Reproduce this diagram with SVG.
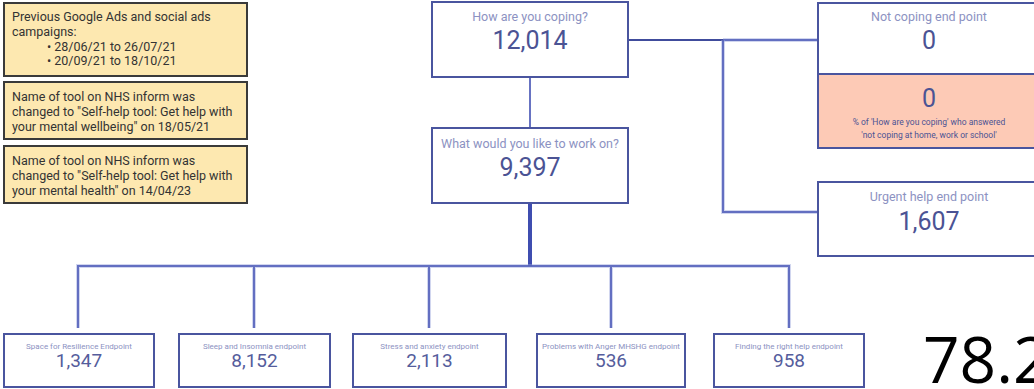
<svg xmlns="http://www.w3.org/2000/svg" width="1034" height="389" viewBox="0 0 1034 389">
  <style>
    .note rect { fill: #fde8b0; stroke: #3a3a3a; stroke-width: 2; }
    .note text { font-family: Roboto, "Liberation Sans", sans-serif; font-size: 12.5px; fill: #333333; }
    .node rect { fill: #ffffff; stroke: #4a559f; stroke-width: 2; }
    .node rect.pink { fill: #fdcab6; }
    .lbl { font-family: Roboto, "Liberation Sans", sans-serif; fill: #8c92c2; text-anchor: middle; }
    .num { font-family: Roboto, "Liberation Sans", sans-serif; fill: #4b5394; text-anchor: middle; }
    .big { font-size: 25px; }
    .mid { font-size: 12.5px; }
    .small { font-size: 8px; }
    .sn { font-size: 19px; fill: #555d9c; }
    #connectors path { fill: none; stroke: #5664bb; stroke-width: 2; stroke-opacity: 0.9; }
    #connectors path.halo { stroke: #9aa3dc; stroke-width: 4; stroke-opacity: 0.45; }
    #connectors path.thick { stroke: #3f4db0; stroke-width: 4; stroke-opacity: 1; }
    #connectors path.dark { stroke: #404c9c; stroke-opacity: 1; }
  </style>

  <!-- Notes -->
  <g id="note-campaigns" class="note">
    <rect x="4" y="3" width="243" height="73"/>
    <text x="12" y="21">Previous Google Ads and social ads</text>
    <text x="12" y="36">campaigns:</text>
    <text x="47" y="51">• 28/06/21 to 26/07/21</text>
    <text x="47" y="65">• 20/09/21 to 18/10/21</text>
  </g>
  <g id="note-rename-2021" class="note">
    <rect x="4" y="82" width="243" height="57"/>
    <text x="12" y="101">Name of tool on NHS inform was</text>
    <text x="12" y="116">changed to "Self-help tool: Get help with</text>
    <text x="12" y="131">your mental wellbeing" on 18/05/21</text>
  </g>
  <g id="note-rename-2023" class="note">
    <rect x="4" y="146" width="243" height="57"/>
    <text x="12" y="165">Name of tool on NHS inform was</text>
    <text x="12" y="180">changed to "Self-help tool: Get help with</text>
    <text x="12" y="195">your mental health" on 14/04/23</text>
  </g>

  <!-- Connectors -->
  <g id="connectors">
    <path class="halo" d="M723 40 H818"/>
    <path d="M723 40 H818"/>
    <path class="dark" d="M628 40 H723"/>
    <path class="halo" d="M723 40 V212 H818"/>
    <path d="M723 40 V212 H818"/>
    <path d="M530 77 V128"/>
    <path class="thick" d="M530 203 V266"/>
    <path class="halo" d="M78 328 V266 H789 V328 M254 266 V328 M429 266 V328 M611 266 V328"/>
    <path d="M78 328 V266 H789 V328 M254 266 V328 M429 266 V328 M611 266 V328"/>
  </g>

  <!-- Main flow -->
  <g id="node-coping" class="node">
    <rect x="432" y="2" width="196" height="75"/>
    <text class="lbl mid" x="530" y="21">How are you coping?</text>
    <text class="num big" x="530" y="49">12,014</text>
  </g>
  <g id="node-work-on" class="node">
    <rect x="432" y="128" width="196" height="75"/>
    <text class="lbl mid" x="530" y="148">What would you like to work on?</text>
    <text class="num big" x="530" y="176">9,397</text>
  </g>

  <g id="node-not-coping" class="node">
    <rect x="818" y="3" width="224" height="71"/>
    <rect class="pink" x="818" y="74" width="224" height="74"/>
    <text class="lbl mid" x="929" y="21">Not coping end point</text>
    <text class="num big" x="929" y="49">0</text>
    <text class="num big" x="929" y="107">0</text>
    <text class="num" x="929" y="125" font-size="8.5">% of 'How are you coping' who answered</text>
    <text class="num" x="929" y="138" font-size="8.5">'not coping at home, work or school'</text>
  </g>

  <g id="node-urgent" class="node">
    <rect x="818" y="182" width="224" height="74"/>
    <text class="lbl mid" x="929" y="201">Urgent help end point</text>
    <text class="num big" x="929" y="230">1,607</text>
  </g>

  <!-- Endpoints -->
  <g id="node-resilience" class="node">
    <rect x="4" y="334" width="150" height="53"/>
    <text class="lbl small" x="79" y="349">Space for Resilience Endpoint</text>
    <text class="num sn" x="79" y="367">1,347</text>
  </g>
  <g id="node-sleep" class="node">
    <rect x="179" y="334" width="151" height="53"/>
    <text class="lbl small" x="254.5" y="349">Sleep and Insomnia endpoint</text>
    <text class="num sn" x="254.5" y="367">8,152</text>
  </g>
  <g id="node-stress" class="node">
    <rect x="353" y="334" width="153" height="53"/>
    <text class="lbl small" x="429.5" y="349">Stress and anxiety endpoint</text>
    <text class="num sn" x="429.5" y="367">2,113</text>
  </g>
  <g id="node-anger" class="node">
    <rect x="537" y="334" width="148" height="53"/>
    <text class="lbl small" x="611" y="349">Problems with Anger MHSHG endpoint</text>
    <text class="num sn" x="611" y="367">536</text>
  </g>
  <g id="node-right-help" class="node">
    <rect x="714" y="334" width="150" height="53"/>
    <text class="lbl small" x="789" y="349">Finding the right help endpoint</text>
    <text class="num sn" x="789" y="367">958</text>
  </g>

  <text x="923" y="383" font-family="'Open Sans', 'Liberation Sans', sans-serif" font-size="64" fill="#000000">78.2</text>
</svg>
